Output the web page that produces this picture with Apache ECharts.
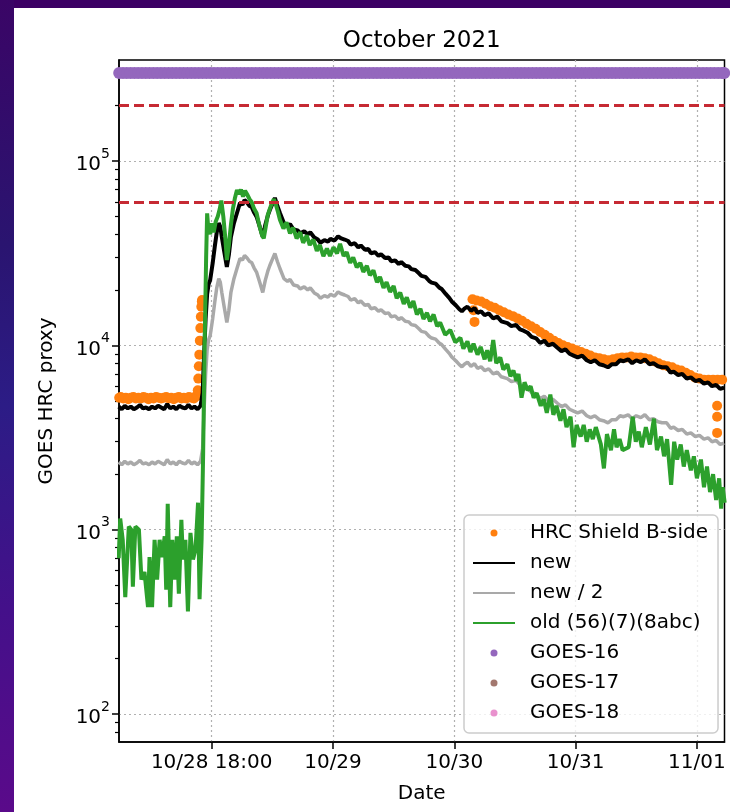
<!DOCTYPE html>
<html><head><meta charset="utf-8">
<script src="https://cdn.jsdelivr.net/npm/echarts@6/dist/echarts.min.js"></script>
<style>
html,body{margin:0;padding:0;width:730px;height:812px;overflow:hidden;background:#3c0064;}
#leftband{position:absolute;left:0;top:0;width:14px;height:812px;background:linear-gradient(180deg,#3a0566 0%,#2a1470 30%,#2c1c86 50%,#44108a 75%,#5a0a8a 100%);}
#panel{position:absolute;left:14px;top:8px;width:716px;height:804px;background:#ffffff;}
#chart{position:absolute;left:0;top:0;width:730px;height:812px;}
</style></head><body>
<div id="leftband"></div><div id="panel"></div><div id="chart"></div>
<script>
// ---- data (x = hours since 2021-10-27 00:00 UTC) ----
const xTickHours = [24, 48, 72, 96, 120];
const xTickLabels = ['10/28 18:00', '10/29', '10/30', '10/31', '11/01'];
const yTickValues = [100, 1000, 10000, 100000];
const yMinorValues = [80, 90, 200, 300, 400, 500, 600, 700, 800, 900, 2000, 3000, 4000, 5000, 6000, 7000, 8000, 9000, 20000, 30000, 40000, 50000, 60000, 70000, 80000, 90000, 200000, 300000];
const thresholds = [60000, 200000];

const hrcPts = [
[5.7,5200],[6.0,5250],[6.5,5150],[7.0,5200],[7.5,5100],[8.0,5200],[8.5,5250],[9.0,5150],[9.5,5200],[10.0,5150],[10.5,5250],[11.0,5200],[11.5,5100],[12.0,5200],[12.5,5150],[13.0,5250],[13.5,5200],[14.0,5150],[14.5,5200],[15.0,5250],[15.5,5150],[16.0,5200],[16.5,5100],[17.0,5200],[17.5,5250],[18.0,5150],[18.5,5200],[19.0,5150],[19.5,5250],[20.0,5200],[20.5,5150],[21.0,5300],
[21.15,5400],[21.25,5700],[21.35,6600],[21.45,7700],[21.55,8900],[21.65,10600],[21.75,12400],[21.85,14300],[21.95,16200],[22.05,17300],[22.1,17600],
[75.6,17800],[75.8,15500],[76.0,13400],[76.4,17500],[77.3,17300],[78.2,16800],[79.1,16300],[80.0,16000],[80.9,15500],[81.8,15100],[82.7,14700],[83.6,14400],[84.5,14000],[85.4,13600],[86.3,13100],[87.2,12700],[88.1,12300],[89.0,11800],[89.9,11400],[90.8,11000],[91.7,10600],[92.6,10300],[93.5,10000],[94.4,9800],[95.3,9600],[96.2,9400],[97.1,9200],[98.0,9000],[98.9,8800],[99.8,8600],[100.7,8500],[101.6,8400],[102.5,8300],[103.4,8400],[104.3,8500],[105.2,8600],[106.1,8600],[107.0,8700],[107.9,8600],[108.8,8600],[109.7,8500],[110.6,8400],[111.5,8200],[112.4,8000],[113.3,7800],[114.2,7700],[115.1,7600],[116.0,7400],[116.9,7300],[117.8,7100],[118.7,6900],[119.6,6700],[120.5,6600],[121.4,6500],[122.3,6500],[123.2,6500],[124.1,6500],[125.0,6500],
[124.0,4700],[124.0,4100],[124.0,3350]
];

const newPts = [
[5.6,4650],[6.2,4500],[6.8,4700],[7.4,4550],[8.0,4650],[8.6,4500],[9.2,4600],[9.8,4750],[10.4,4550],[11.0,4600],[11.6,4500],[12.2,4650],[12.8,4550],[13.4,4700],[14.0,4600],[14.6,4500],[15.2,4800],[15.8,4550],[16.4,4650],[17.0,4500],[17.6,4700],[18.2,4600],[18.8,4550],[19.4,4750],[20.0,4550],[20.6,4650],[21.2,4500],[21.8,4700],
[22.2,5500],[22.5,9000],[22.8,14000],[23.1,19000],[23.4,21500],[23.7,22600],[24.2,28000],[24.6,34200],[25.0,41000],[25.4,46000],[25.7,44000],[26.0,38700],[26.5,32000],[27.0,26600],[27.4,31000],[27.8,38700],[28.4,46000],[29.0,52200],[29.6,59200],[30.1,58000],[30.5,61400],[31.0,59500],[31.5,57000],[31.9,56300],[32.4,52500],[32.9,49700],[33.5,44000],[34.1,38700],[34.6,45000],[35.1,50500],[35.5,54200],[36.0,58500],[36.5,63000],[37.0,57000],[37.5,52200],
[38.3,46000],[39.0,44500],[39.5,45500],[40.2,42500],[41.0,42000],[41.5,40500],[42.3,41500],[43.0,40000],[43.5,41000],[44.3,38500],[45.0,37500],[45.5,36000],[46.3,37200],[47.0,36500],[47.5,37800],[48.3,37000],[49.0,39000],[49.5,38200],[50.3,37500],[51.0,36800],[51.5,35200],[52.3,35800],[53.0,34000],[53.5,34800],[54.3,33000],[55.0,33300],[55.5,31600],[56.3,32000],[57.0,30600],[57.5,31200],[58.3,29800],[59.0,30000],[59.5,28600],[60.3,28900],[61.0,27600],[61.5,28300],[62.3,27000],[63.0,26800],[63.5,25900],[64.3,25600],[65.0,24600],[65.5,23800],[66.3,23500],[67.0,22400],[67.5,21900],[68.3,21600],[69.0,20600],[69.5,20200],[70.3,19000],[71.0,18100],[71.5,17300],[72.3,16500],[73.0,15700],[73.5,15300],[74.0,15800],[74.6,16200],[75.3,15400],[76.0,15900],[76.6,15000],[77.3,15300],[78.0,14600],[78.8,14900],[79.7,14000],[80.5,14300],[81.3,13500],[82.5,13200],[83.3,12700],[84.2,12900],[85.0,12200],[85.7,12000],[86.5,11700],[87.3,11100],[88.2,10900],[89.0,10300],[89.8,10600],[90.6,10000],[91.5,10200],[92.4,9700],[93.2,9300],[94.0,9500],[94.8,9000],[95.6,8800],[96.4,8600],[97.3,8800],[98.2,8300],[99.0,8100],[99.8,8300],[100.7,7900],[101.5,7800],[102.4,7600],[103.2,7900],[104.0,7900],[104.8,8300],[105.5,8200],[106.4,8400],[107.2,8000],[108.0,8300],[108.9,8100],[109.7,8400],[110.6,7900],[111.4,8000],[112.3,7700],[113.1,7600],[114.0,7600],[114.8,7100],[115.4,7200],[116.3,6900],[117.1,7000],[118.0,6600],[118.8,6700],[119.7,6400],[120.5,6500],[121.4,6200],[122.2,6300],[123.0,6000],[123.8,6100],[124.6,5800],[125.4,5900]
];

const oldPts = [
[5.6,700],[5.9,1150],[6.4,880],[6.9,430],[7.6,1040],[8.1,1000],[8.4,490],[8.9,1040],[9.6,1000],[10.1,536],[10.7,590],[11.4,380],[11.7,710],[12.2,380],[12.7,880],[13.2,536],[13.7,880],[14.2,710],[14.7,920],[15.0,473],[15.3,1380],[15.8,380],[16.2,880],[16.7,536],[17.1,920],[17.5,450],[18.0,1130],[18.3,690],[18.8,880],[19.3,360],[19.8,960],[20.3,690],[20.8,780],[21.3,1400],[21.6,420],[22.0,880],
[22.3,2500],[22.6,10000],[22.9,30000],[23.1,52000],[23.3,44000],[23.7,40000],[24.0,46000],[24.4,41000],[24.8,47000],[25.2,50000],[25.6,55000],[25.9,61000],[26.3,50000],[26.7,38000],[27.0,29000],[27.4,35000],[27.8,45000],[28.2,55000],[28.6,63000],[29.0,69600],[29.4,66000],[29.8,70000],[30.2,64000],[30.6,69000],[31.0,66000],[31.5,62000],[31.9,60000],[32.4,55000],[32.9,52000],[33.4,45000],[33.9,40000],[34.3,38000],[34.7,44000],[35.1,51000],[35.5,55000],[35.9,59000],[36.3,62000],[36.7,58000],[37.1,53000],
[37.5,48000],[38.2,43000],[38.8,46500],[39.5,40500],[40.1,43500],[40.8,38000],[41.5,41000],[42.1,36000],[42.8,39500],[43.4,35000],[44.1,37500],[44.8,32500],[45.4,35000],[46.1,30500],[46.8,33500],[47.4,30500],[48.1,34000],[48.8,31500],[49.4,35500],[50.1,30500],[50.7,32000],[51.4,28000],[52.0,30000],[52.7,26500],[53.4,28000],[54.0,25000],[54.7,27000],[55.3,24000],[56.0,25500],[56.7,22000],[57.3,23500],[58.0,20500],[58.6,22000],[59.3,19500],[60.0,21000],[60.6,18000],[61.3,19300],[62.0,16800],[62.6,18200],[63.3,16000],[63.9,17400],[64.6,14700],[65.3,15800],[65.9,13900],[66.6,15000],[67.2,13500],[67.9,14700],[68.6,12700],[69.2,13300],
[70.2,11400],[71.2,12100],[72.2,10400],[73.2,11000],[73.8,9600],[74.6,10500],[75.2,9200],[75.8,10200],[76.6,8900],[77.2,9800],[78.0,8400],[78.5,9400],[79.1,8200],[79.7,10700],[80.3,8000],[81.1,8600],[81.7,7400],[82.5,7900],[83.1,6800],[83.7,7300],[84.3,6400],[84.7,7000],[85.3,5200],[85.9,6300],[86.5,5700],[87.1,6000],[87.7,5200],[88.3,5500],[89.1,4700],[89.7,5100],[90.3,4300],[91.0,5400],[91.6,4200],[92.2,4700],[93.0,3900],[93.6,4500],[94.2,3600],[95.0,4100],[95.6,2800],[96.2,3700],[97.0,3200],[97.6,3700],[98.2,3000],[98.8,3500],[99.4,3100],[100.0,3600],[101.0,2900],[101.6,2150],[102.2,3300],[103.0,2700],[103.6,3500],[104.1,2800],[104.7,3100],[105.3,2700],[106.5,2800],[107.3,4100],[107.9,3000],[108.5,3400],[109.1,2800],[109.9,3600],[110.7,2900],[111.5,4000],[112.1,2700],[112.9,3200],[113.5,2500],[114.1,3100],[114.9,1750],[115.5,3000],[116.1,2400],[116.8,2900],[117.4,2200],[118.0,2700],[118.8,2100],[119.4,2500],[120.0,1900],[120.8,2400],[121.4,1700],[122.0,2200],[122.6,1600],[123.2,2000],[123.8,1450],[124.4,1900],[124.8,1300],[125.1,1700],[125.5,1400]
];

const goes16Pts = [
[5.7,300000],[6.45,300000],[7.2,300000],[7.95,300000],[8.7,300000],[9.45,300000],[10.2,300000],[10.95,300000],[11.7,300000],[12.45,300000],[13.2,300000],[13.95,300000],[14.7,300000],[15.45,300000],[16.2,300000],[16.95,300000],[17.7,300000],[18.45,300000],[19.2,300000],[19.95,300000],[20.7,300000],[21.45,300000],[22.2,300000],[22.95,300000],[23.7,300000],[24.45,300000],[25.2,300000],[25.95,300000],[26.7,300000],[27.45,300000],[28.2,300000],[28.95,300000],[29.7,300000],[30.45,300000],[31.2,300000],[31.95,300000],[32.7,300000],[33.45,300000],[34.2,300000],[34.95,300000],[35.7,300000],[36.45,300000],[37.2,300000],[37.95,300000],[38.7,300000],[39.45,300000],[40.2,300000],[40.95,300000],[41.7,300000],[42.45,300000],[43.2,300000],[43.95,300000],[44.7,300000],[45.45,300000],[46.2,300000],[46.95,300000],[47.7,300000],[48.45,300000],[49.2,300000],[49.95,300000],[50.7,300000],[51.45,300000],[52.2,300000],[52.95,300000],[53.7,300000],[54.45,300000],[55.2,300000],[55.95,300000],[56.7,300000],[57.45,300000],[58.2,300000],[58.95,300000],[59.7,300000],[60.45,300000],[61.2,300000],[61.95,300000],[62.7,300000],[63.45,300000],[64.2,300000],[64.95,300000],[65.7,300000],[66.45,300000],[67.2,300000],[67.95,300000],[68.7,300000],[69.45,300000],[70.2,300000],[70.95,300000],[71.7,300000],[72.45,300000],[73.2,300000],[73.95,300000],[74.7,300000],[75.45,300000],[76.2,300000],[76.95,300000],[77.7,300000],[78.45,300000],[79.2,300000],[79.95,300000],[80.7,300000],[81.45,300000],[82.2,300000],[82.95,300000],[83.7,300000],[84.45,300000],[85.2,300000],[85.95,300000],[86.7,300000],[87.45,300000],[88.2,300000],[88.95,300000],[89.7,300000],[90.45,300000],[91.2,300000],[91.95,300000],[92.7,300000],[93.45,300000],[94.2,300000],[94.95,300000],[95.7,300000],[96.45,300000],[97.2,300000],[97.95,300000],[98.7,300000],[99.45,300000],[100.2,300000],[100.95,300000],[101.7,300000],[102.45,300000],[103.2,300000],[103.95,300000],[104.7,300000],[105.45,300000],[106.2,300000],[106.95,300000],[107.7,300000],[108.45,300000],[109.2,300000],[109.95,300000],[110.7,300000],[111.45,300000],[112.2,300000],[112.95,300000],[113.7,300000],[114.45,300000],[115.2,300000],[115.95,300000],[116.7,300000],[117.45,300000],[118.2,300000],[118.95,300000],[119.7,300000],[120.45,300000],[121.2,300000],[121.95,300000],[122.7,300000],[123.45,300000],[124.2,300000],[124.95,300000],[125.4,300000]
];
const goes17Pts = [];
const goes18Pts = [];

// ---- chart ----
const FONT = "'DejaVu Sans', sans-serif";
const labelFor = v => {
  let best = 0, bd = Infinity;
  xTickHours.forEach((t, i) => { const d = Math.abs(t - v); if (d < bd) { bd = d; best = i; } });
  return xTickLabels[best];
};
const newHalfPts = newPts.map(p => [p[0], p[1] / 2]);

const chart = echarts.init(document.getElementById('chart'), null, { renderer: 'canvas' });
const lineLegend = { itemStyle: { opacity: 0 } };
chart.setOption({
  backgroundColor: 'transparent',
  animation: false,
  textStyle: { fontFamily: FONT },
  grid: { left: 119, top: 60, width: 605.5, height: 682, show: true, borderColor: '#000', borderWidth: 1.5, backgroundColor: 'transparent', containLabel: false, outerBoundsMode: 'none' },
  graphic: [{ type: 'text', x: 421.75, y: 41, style: { text: 'October 2021', font: "23px 'DejaVu Sans', sans-serif", fill: '#000', align: 'center', verticalAlign: 'middle' } }],
  legend: {
    orient: 'vertical', left: 464, top: 515,
    data: [
      { name: 'HRC Shield B-side' },
      Object.assign({ name: 'new' }, lineLegend),
      Object.assign({ name: 'new / 2' }, lineLegend),
      Object.assign({ name: 'old (56)(7)(8abc)' }, lineLegend),
      { name: 'GOES-16' }, { name: 'GOES-17' }, { name: 'GOES-18' }
    ],
    itemWidth: 42, itemHeight: 7, itemGap: 10,
    padding: [8, 10, 10, 8],
    backgroundColor: 'rgba(255,255,255,0.8)', borderColor: '#cccccc', borderWidth: 1.5, borderRadius: 5,
    textStyle: { fontSize: 20, color: '#000', fontFamily: FONT, padding: [0, 0, 0, 10], lineHeight: 20 },
    selectedMode: false
  },
  xAxis: [{
    type: 'value', min: 5.66, max: 125.46,
    axisLine: { show: true, lineStyle: { color: '#000', width: 1.5 } },
    axisTick: { show: true, customValues: xTickHours, length: 7, lineStyle: { color: '#000', width: 1.5 } },
    axisLabel: { show: true, customValues: xTickHours, formatter: v => labelFor(v), fontSize: 20, color: '#000', margin: 11, fontFamily: FONT, hideOverlap: false },
    splitLine: { show: true, lineStyle: { color: '#b0b0b0', type: [2, 3], width: 1.2 } },
    minorTick: { show: false },
    name: 'Date', nameLocation: 'middle', nameGap: 42,
    nameTextStyle: { fontSize: 20, color: '#000', fontFamily: FONT }
  }],
  yAxis: [{
    type: 'log', logBase: 10, min: 70.5, max: 353000,
    axisLine: { show: true, lineStyle: { color: '#000', width: 1.5 } },
    axisTick: { show: true, customValues: yTickValues, length: 7, lineStyle: { color: '#000', width: 1.5 } },
    axisLabel: {
      show: true, customValues: yTickValues, margin: 9,
      formatter: v => '{b|10}{s|' + Math.round(Math.log10(v)) + '}',
      rich: {
        b: { fontSize: 20, color: '#000', fontFamily: FONT, lineHeight: 28, verticalAlign: 'bottom' },
        s: { fontSize: 14, color: '#000', fontFamily: FONT, lineHeight: 28, verticalAlign: 'top' }
      }
    },
    splitLine: { show: true, lineStyle: { color: '#b0b0b0', type: [2, 3], width: 1.2 } },
    name: 'GOES HRC proxy', nameLocation: 'middle', nameGap: 62, nameRotate: 90,
    nameTextStyle: { fontSize: 20, color: '#000', fontFamily: FONT }
  }, {
    type: 'log', logBase: 10, min: 70.5, max: 353000, position: 'left', offset: 0,
    axisLine: { show: false },
    axisTick: { show: true, customValues: yMinorValues, length: 4, lineStyle: { color: '#000', width: 1.2 } },
    axisLabel: { show: false },
    splitLine: { show: false }
  }],
  series: [
    { name: 'HRC Shield B-side', type: 'scatter', data: hrcPts, symbol: 'circle', symbolSize: 10, itemStyle: { color: '#ff7f0e', opacity: 1 } },
    { name: 'new', type: 'line', data: newPts, symbol: 'none', showSymbol: false, lineStyle: { color: '#000000', width: 4 }, itemStyle: { color: '#000000' } },
    { name: 'new / 2', type: 'line', data: newHalfPts, symbol: 'none', showSymbol: false, lineStyle: { color: '#a9a9a9', width: 3.5 }, itemStyle: { color: '#a9a9a9' } },
    { name: 'old (56)(7)(8abc)', type: 'line', data: oldPts, symbol: 'none', showSymbol: false, lineStyle: { color: '#2ca02c', width: 4 }, itemStyle: { color: '#2ca02c' } },
    { name: 'GOES-16', type: 'scatter', data: goes16Pts, symbol: 'circle', symbolSize: 12, itemStyle: { color: '#9467bd', opacity: 1 } },
    { name: 'GOES-17', type: 'scatter', data: goes17Pts, symbol: 'circle', symbolSize: 9, itemStyle: { color: '#8c564b' } },
    { name: 'GOES-18', type: 'scatter', data: goes18Pts, symbol: 'circle', symbolSize: 9, itemStyle: { color: '#e377c2' } },
    { name: 'limits', type: 'line', data: [], silent: true,
      markLine: { silent: true, symbol: ['none', 'none'], label: { show: false },
        lineStyle: { color: '#c62a33', type: [10, 5], width: 3 },
        data: thresholds.map(v => ({ yAxis: v })) } }
  ]
});
</script></body></html>
